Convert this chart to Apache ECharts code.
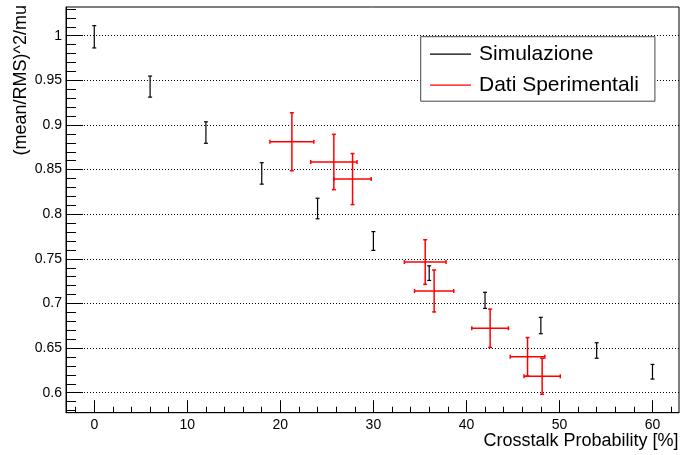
<!DOCTYPE html>
<html>
<head>
<meta charset="utf-8">
<script src="https://cdn.jsdelivr.net/npm/echarts@6/dist/echarts.min.js"></script>
<style>
html,body{margin:0;padding:0;background:#fff;}
#chart{width:681px;height:455px;}
</style>
</head>
<body>
<div id="chart"></div>
<script>
// ---- data ----
const simX   = [0, 6, 12, 18, 24, 30, 36, 42, 48, 54, 60];
const simY   = [0.9988, 0.943, 0.8915, 0.8457, 0.8064, 0.770, 0.734, 0.7035, 0.6753, 0.6473, 0.6235];
const simErr = [0.0125, 0.0118, 0.012, 0.012, 0.0115, 0.0105, 0.0082, 0.009, 0.0092, 0.0087, 0.0082];

const expX    = [21.24, 25.75, 27.76, 35.57, 36.53, 42.55, 46.57, 48.14];
const expXErr = [2.36, 2.49, 2.0, 2.24, 2.11, 1.97, 1.86, 1.95];
const expY    = [0.8812, 0.8585, 0.8394, 0.7464, 0.714, 0.6722, 0.6403, 0.6184];
const expYErr = [0.0325, 0.031, 0.0286, 0.025, 0.0235, 0.0215, 0.0215, 0.0202];

const xMajor = [0, 10, 20, 30, 40, 50, 60];
const yMajor = [0.6, 0.65, 0.7, 0.75, 0.8, 0.85, 0.9, 0.95, 1.0];
const xRange = [-3.04, 62.85];
const yRange = [0.5776, 1.0322];

const xTitle = 'Crosstalk Probability [%]';
const yTitle = '(mean/RMS)^2/mu';
const simName = 'Simulazione';
const expName = 'Dati Sperimentali';

// minor ticks: 5 subdivisions of each major interval
function minors(major, lo, hi) {
  const step = (major[1] - major[0]) / 5;
  const out = [];
  const start = major[0] - Math.floor((major[0] - lo) / step) * step;
  for (let i = 0; ; i++) {
    const v = +(start + i * step).toFixed(6);
    if (v > hi) break;
    if (!major.some(m => Math.abs(m - v) < 1e-9)) out.push(v);
  }
  return out;
}
const xMinor = minors(xMajor, xRange[0], xRange[1]);
const yMinor = minors(yMajor, yRange[0], yRange[1]);

const FONT = '"Liberation Sans", Arial, Helvetica, sans-serif';

function errRender(color, lw) {
  return function (params, api) {
    const x = api.value(0), y = api.value(1), ex = api.value(2), ey = api.value(3);
    const cap = 2;
    const style = { stroke: color, lineWidth: lw };
    const children = [];
    const t = api.coord([x, y + ey]), b = api.coord([x, y - ey]);
    children.push({ type: 'line', shape: { x1: t[0], y1: t[1], x2: b[0], y2: b[1] }, style });
    children.push({ type: 'line', shape: { x1: t[0] - cap, y1: t[1], x2: t[0] + cap, y2: t[1] }, style });
    children.push({ type: 'line', shape: { x1: b[0] - cap, y1: b[1], x2: b[0] + cap, y2: b[1] }, style });
    if (ex > 0) {
      const l = api.coord([x - ex, y]), r = api.coord([x + ex, y]);
      children.push({ type: 'line', shape: { x1: l[0], y1: l[1], x2: r[0], y2: r[1] }, style });
      children.push({ type: 'line', shape: { x1: l[0], y1: l[1] - cap, x2: l[0], y2: l[1] + cap }, style });
      children.push({ type: 'line', shape: { x1: r[0], y1: r[1] - cap, x2: r[0], y2: r[1] + cap }, style });
    }
    return { type: 'group', children };
  };
}

const simData = simX.map((x, i) => [x, simY[i], 0, simErr[i]]);
const expData = expX.map((x, i) => [x, expY[i], expXErr[i], expYErr[i]]);

const chart = echarts.init(document.getElementById('chart'), null, { renderer: 'canvas' });

const axisCommon = {
  type: 'value',
  splitLine: { show: false },
  minorTick: { show: false },
};

chart.setOption({
  animation: false,
  backgroundColor: '#fff',
  textStyle: { fontFamily: FONT },
  grid: { left: 66, right: 2, top: 7, bottom: 42.3, show: true, borderColor: '#000', borderWidth: 1, backgroundColor: 'transparent' },
  xAxis: [
    Object.assign({}, axisCommon, {
      min: xRange[0], max: xRange[1], position: 'bottom',
      axisLine: { show: true, onZero: false, lineStyle: { color: '#000', width: 1 } },
      axisTick: { show: true, inside: true, length: 12.5, customValues: xMajor, lineStyle: { color: '#000', width: 1 } },
      axisLabel: { show: true, customValues: xMajor, margin: 5, color: '#000', fontSize: 14, fontFamily: FONT }
    }),
    Object.assign({}, axisCommon, {
      min: xRange[0], max: xRange[1], position: 'bottom', offset: 0,
      axisLine: { show: false, onZero: false },
      axisTick: { show: true, inside: true, length: 6, customValues: xMinor, lineStyle: { color: '#000', width: 1 } },
      axisLabel: { show: false }
    })
  ],
  yAxis: [
    Object.assign({}, axisCommon, {
      min: yRange[0], max: yRange[1], position: 'left',
      axisLine: { show: true, onZero: false, lineStyle: { color: '#000', width: 1 } },
      axisTick: { show: true, inside: true, length: 17, customValues: yMajor, lineStyle: { color: '#000', width: 1 } },
      axisLabel: { show: true, customValues: yMajor, margin: 4, color: '#000', fontSize: 14, fontFamily: FONT,
                   formatter: v => String(+v.toFixed(2)) }
    }),
    Object.assign({}, axisCommon, {
      min: yRange[0], max: yRange[1], position: 'left', offset: 0,
      axisLine: { show: false, onZero: false },
      axisTick: { show: true, inside: true, length: 10, customValues: yMinor, lineStyle: { color: '#000', width: 1 } },
      axisLabel: { show: false }
    })
  ],
  legend: {
    orient: 'vertical',
    left: 420.7, top: 36.7,
    padding: [7, 16, 5.5, 9.3],
    itemWidth: 41, itemHeight: 1.3, itemGap: 10,
    icon: 'rect',
    backgroundColor: '#fff',
    borderColor: '#444', borderWidth: 1, borderRadius: 0,
    textStyle: { fontSize: 21, fontFamily: FONT, color: '#000', lineHeight: 21, padding: [0, 0, 0, 3] },
    data: [simName, expName]
  },
  graphic: [
    { type: 'text', x: 21, y: 5, rotation: Math.PI / 2,
      style: { text: yTitle, font: '18px ' + FONT, fill: '#000', align: 'right', verticalAlign: 'middle' } },
    { type: 'text', x: 678.5, y: 441.5,
      style: { text: xTitle, font: '18px ' + FONT, fill: '#000', align: 'right', verticalAlign: 'middle' } }
  ],
  series: [
    {
      name: simName, type: 'custom', xAxisIndex: 0, yAxisIndex: 0,
      itemStyle: { color: '#000' },
      renderItem: errRender('#000', 1.2),
      data: simData, z: 3,
      markLine: {
        silent: true, symbol: 'none', animation: false, z: 1,
        label: { show: false },
        lineStyle: { color: '#000', type: [1, 2], width: 1 },
        emphasis: { disabled: true },
        data: yMajor.map(v => ({ yAxis: v }))
      }
    },
    {
      name: expName, type: 'custom', xAxisIndex: 0, yAxisIndex: 0,
      itemStyle: { color: '#ff0000' },
      renderItem: errRender('#ff0000', 1.5),
      data: expData, z: 4
    }
  ]
});
</script>
</body>
</html>
